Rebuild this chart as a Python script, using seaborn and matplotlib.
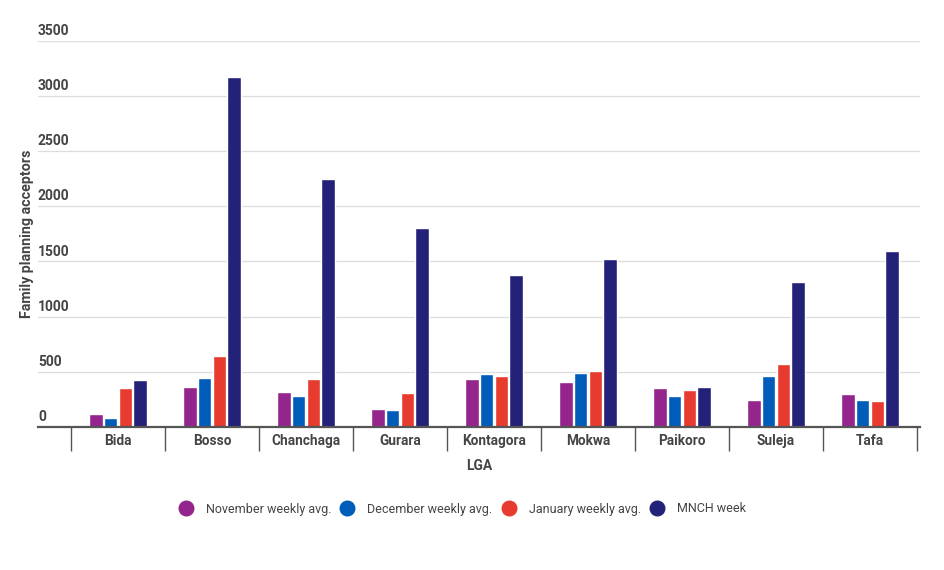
import matplotlib
matplotlib.use("Agg")
import matplotlib.pyplot as plt
import matplotlib.transforms as mtransforms
from matplotlib.lines import Line2D
import seaborn as sns
import pandas as pd

lgas = ["Bida", "Bosso", "Chanchaga", "Gurara", "Kontagora", "Mokwa", "Paikoro", "Suleja", "Tafa"]
november = [115, 363, 315, 160, 432, 411, 351, 248, 296]
december = [85, 448, 278, 151, 481, 490, 281, 460, 242]
january = [357, 647, 435, 305, 466, 511, 333, 575, 239]
mnch = [423, 3170, 2246, 1801, 1375, 1519, 360, 1312, 1592]
series_names = ["November weekly avg.", "December weekly avg.", "January weekly avg.", "MNCH week"]
colors = ["#93258c", "#005cb9", "#e63b2e", "#242178"]
yticks = [0, 500, 1000, 1500, 2000, 2500, 3000, 3500]

rows = []
for name, vals in zip(series_names, [november, december, january, mnch]):
    for lga, v in zip(lgas, vals):
        rows.append({"LGA": lga, "Series": name, "Value": v})
df = pd.DataFrame(rows)

sns.set_theme(style="white")
plt.rcParams["font.family"] = ["Roboto", "DejaVu Sans"]

fig = plt.figure(figsize=(9.45, 5.7), dpi=100)
ax = fig.add_axes([38/945, 143/570, (920-38)/945, (529.3-143)/570])

sns.barplot(data=df, x="LGA", y="Value", hue="Series", order=lgas,
            hue_order=series_names, palette=colors, width=0.63, gap=0.08,
            saturation=1, ax=ax, legend=False, errorbar=None)

ncat = len(lgas)
ax.set_xlim(-0.5 - 33/94, ncat - 0.5 + 3/94)
ax.set_ylim(0, 3500)

for s in ["top", "right", "left"]:
    ax.spines[s].set_visible(False)
ax.spines["bottom"].set_color("#555555")
ax.spines["bottom"].set_linewidth(1.6)

ax.set_yticks(yticks)
ax.set_yticklabels([str(t) for t in yticks])
ax.yaxis.grid(True, color="#dddddd", linewidth=0.9)
ax.set_axisbelow(True)
ax.tick_params(axis="y", length=0, pad=0, labelsize=10, labelcolor="#444444")
offset = mtransforms.ScaledTranslation(0, 2/72, fig.dpi_scale_trans)
for lab in ax.get_yticklabels():
    lab.set_ha("left")
    lab.set_va("bottom")
    lab.set_fontweight("bold")
    lab.set_transform(lab.get_transform() + offset)

ax.set_xticks(range(ncat))
ax.set_xticklabels(lgas, fontweight="bold", fontsize=9.8, color="#444444")
ax.set_xticks([i - 0.5 for i in range(ncat + 1)], minor=True)
ax.tick_params(axis="x", which="major", length=0, pad=5)
ax.tick_params(axis="x", which="minor", length=17, width=1.0, color="#555555", direction="out", bottom=True)

ax.set_xlabel("LGA", fontweight="bold", fontsize=10, color="#444444", labelpad=3)
ax.set_ylabel("Family planning acceptors", fontweight="bold", fontsize=10.3, color="#444444")
ax.yaxis.set_label_coords(-4/882, 0.5)

handles = [Line2D([0], [0], marker="o", linestyle="", markersize=10.5,
                  markerfacecolor=c, markeredgecolor=c) for c in colors]
fig.legend(handles, series_names, loc="center", bbox_to_anchor=(0.489, 1 - 509/570),
           ncol=4, frameon=False, fontsize=9, labelcolor="#444444",
           handletextpad=1.0, columnspacing=0.7, handlelength=1.2)

fig.savefig("out.png", dpi=100)
